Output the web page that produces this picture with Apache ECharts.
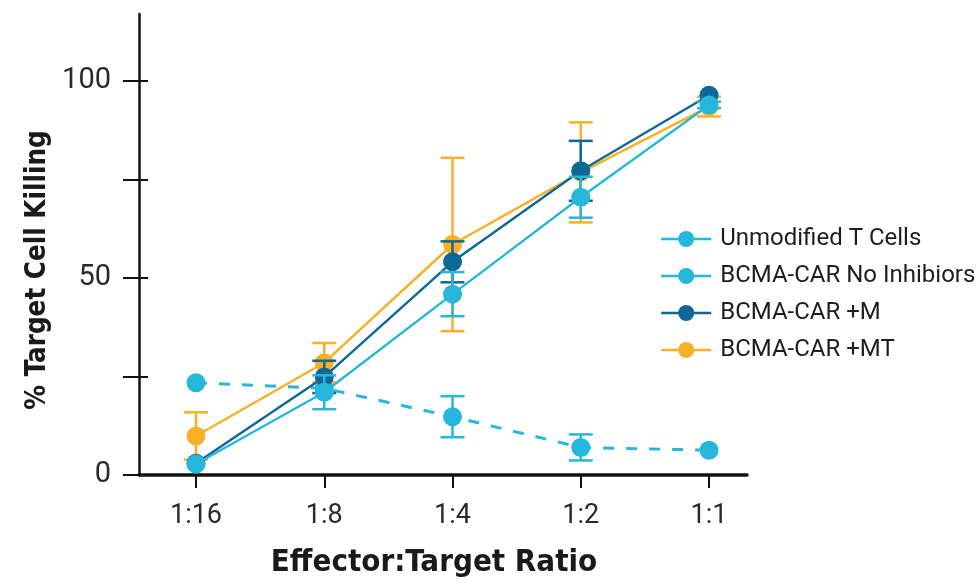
<!DOCTYPE html>
<html>
<head>
<meta charset="utf-8">
<script src="https://cdn.jsdelivr.net/npm/echarts@6/dist/echarts.min.js"></script>
<style>html,body{margin:0;padding:0;background:#fff;}#c{width:978px;height:586px;}</style>
</head>
<body>
<div id="c"></div>
<script>
var categories = ['1:16', '1:8', '1:4', '1:2', '1:1'];
var yTickLabels = [0, 50, 100];
var yTicks = [0, 25, 50, 75, 100];
var seriesNames = ['Unmodified T Cells', 'BCMA-CAR No Inhibiors', 'BCMA-CAR +M', 'BCMA-CAR +MT'];
var unmodified = [23.4, 22.0, 14.8, 7.0, 6.3];
var unmodifiedErr = [0, 0, 5.2, 3.3, 0];
var noInhib = [2.8, 21.0, 45.9, 70.5, 93.9];
var noInhibErr = [0, 4.3, 5.6, 5.2, 0.8];
var plusM = [3.0, 24.9, 54.1, 77.2, 96.4];
var plusMErr = [0, 4.1, 5.2, 7.6, 0];
var plusMT = [9.9, 28.5, 58.5, 76.8, 93.5];
var plusMTErr = [6.0, 5.0, 22.0, 12.7, 2.5];

var cLight = '#27b7da';
var cDark = '#0d6797';
var cOrange = '#f8b127';

function pts(vals) { return vals.map(function (v, i) { return [i, v]; }); }
function errs(vals, e) {
  var out = [];
  vals.forEach(function (v, i) { if (e[i] > 0) out.push([i, v - e[i], v + e[i]]); });
  return out;
}
function errSeries(vals, e, color, z) {
  return {
    type: 'custom', z: z, silent: true, legendHoverLink: false,
    data: errs(vals, e),
    encode: { x: 0, y: [1, 2] },
    renderItem: function (params, api) {
      var x = api.value(0);
      var lo = api.coord([x, api.value(1)]);
      var hi = api.coord([x, api.value(2)]);
      var w = 12;
      var st = { stroke: color, lineWidth: 2.5, fill: null };
      return {
        type: 'group',
        children: [
          { type: 'line', shape: { x1: lo[0], y1: lo[1], x2: hi[0], y2: hi[1] }, style: st },
          { type: 'line', shape: { x1: lo[0] - w, y1: lo[1], x2: lo[0] + w, y2: lo[1] }, style: st },
          { type: 'line', shape: { x1: hi[0] - w, y1: hi[1], x2: hi[0] + w, y2: hi[1] }, style: st }
        ]
      };
    }
  };
}
function lineSeries(name, vals, color, dashed, z) {
  return {
    name: name, type: 'line', data: pts(vals), z: z,
    symbol: 'circle', symbolSize: 19,
    itemStyle: { color: color },
    lineStyle: { color: color, width: dashed ? 3 : 2.4, type: dashed ? [11, 12] : 'solid' },
    emphasis: { disabled: true },
    animation: false
  };
}

var chart = echarts.init(document.getElementById('c'), null, { renderer: 'canvas' });
var axisFont = 'Roboto, "Liberation Sans", sans-serif';
var titleFont = '"Liberation Sans Narrow", "DejaVu Sans Condensed", Roboto, sans-serif';
chart.setOption({
  animation: false,
  backgroundColor: '#ffffff',
  grid: { left: 139, top: 14, width: 608, height: 461, containLabel: false },
  xAxis: {
    type: 'value', min: -0.4444, max: 4.296,
    axisLine: { show: true, onZero: false, lineStyle: { color: '#111', width: 3.5 } },
    axisTick: { show: true, customValues: [0, 1, 2, 3, 4], length: 13, lineStyle: { color: '#111', width: 2 } },
    axisLabel: {
      customValues: [0, 1, 2, 3, 4], margin: 28, fontSize: 27, color: '#2a2a2a', fontFamily: axisFont,
      formatter: function (v) { return categories[Math.round(v)]; }
    },
    splitLine: { show: false }
  },
  yAxis: [{
    type: 'value', min: 0, max: 117,
    axisLine: { show: true, onZero: false, lineStyle: { color: '#111', width: 2.5 } },
    axisTick: { show: true, customValues: yTicks, length: 16, lineStyle: { color: '#111', width: 2 } },
    axisLabel: { customValues: yTickLabels, margin: 28, fontSize: 29, color: '#2a2a2a', fontFamily: axisFont },
    splitLine: { show: false }
  }, {
    type: 'value', min: 0, max: 117, position: 'left',
    axisLine: { show: false, onZero: false },
    axisTick: { show: true, inside: true, customValues: yTicks, length: 9, lineStyle: { color: '#111', width: 2 } },
    axisLabel: { show: false },
    splitLine: { show: false }
  }],
  legend: {
    data: seriesNames,
    orient: 'vertical', left: 655, top: 222,
    itemWidth: 50, itemHeight: 20, itemGap: 13,
    lineStyle: { type: 'solid', width: 2.4 },
    textStyle: { fontSize: 24, lineHeight: 24, color: '#1e1e1e', fontFamily: axisFont, padding: [0, 0, 0, 4] },
    selectedMode: false
  },
  graphic: [
    { type: 'text', x: 434, y: 563, style: { text: 'Effector:Target Ratio', x: 0, y: 0, align: 'center', verticalAlign: 'middle', font: 'bold 31px ' + titleFont, fill: '#1a1a1a' } },
    { type: 'text', rotation: Math.PI / 2, x: 38, y: 270, style: { text: '% Target Cell Killing', x: 0, y: 0, align: 'center', verticalAlign: 'middle', font: 'bold 27.5px ' + titleFont, fill: '#1a1a1a' } }
  ],
  series: [
    errSeries(unmodified, unmodifiedErr, cLight, 2),
    lineSeries(seriesNames[0], unmodified, cLight, true, 3),
    errSeries(plusMT, plusMTErr, cOrange, 4),
    lineSeries(seriesNames[3], plusMT, cOrange, false, 5),
    errSeries(plusM, plusMErr, cDark, 6),
    lineSeries(seriesNames[2], plusM, cDark, false, 7),
    errSeries(noInhib, noInhibErr, cLight, 8),
    lineSeries(seriesNames[1], noInhib, cLight, false, 9)
  ]
});
</script>
</body>
</html>
